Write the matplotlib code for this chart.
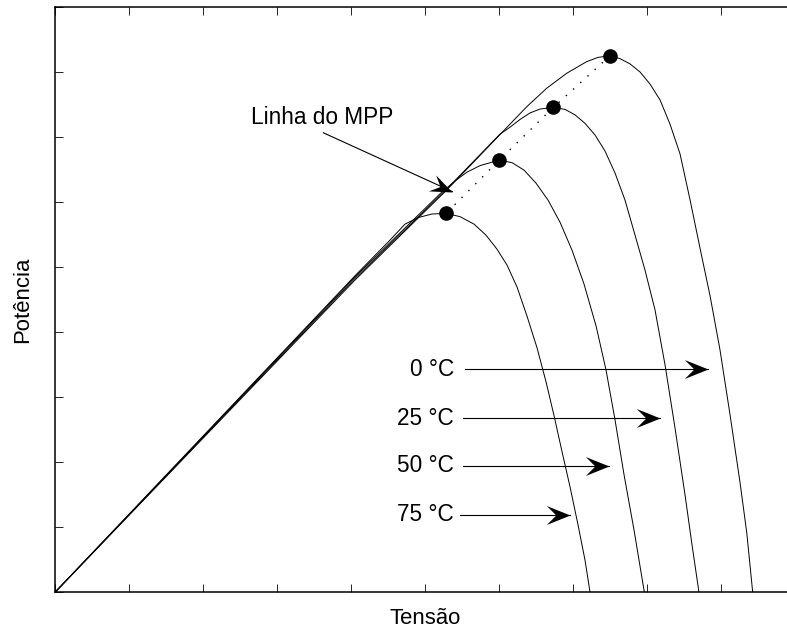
import numpy as np
import matplotlib.pyplot as plt
from matplotlib.path import Path
from matplotlib.transforms import Affine2D

plt.rcParams['font.family'] = ['Liberation Sans', 'DejaVu Sans']

# P x V curves of the module at four cell temperatures (V in volts, P in watts)
v_0 = [0, 20.27, 26.47, 30.52, 31.87, 33.22, 34.57, 35.93, 36.69, 37.50, 38.18,
       38.85, 39.53, 40.20, 40.88, 41.55, 42.23, 42.91, 43.58, 44.26, 44.93,
       45.61, 46.28, 46.74, 47.14]
p_0 = [0, 96.1, 123.8, 143.0, 149.4, 155.1, 159.7, 163.3, 164.6, 165.1, 164.2,
       162.6, 160.1, 156.4, 151.5, 144.1, 134.9, 120.7, 105.9, 91.2, 74.6,
       54.6, 33.9, 18.3, 0]

v_25 = [0, 20.27, 26.47, 30.07, 30.74, 31.42, 32.09, 32.77, 33.67, 34.46, 35.14,
        35.81, 36.49, 37.16, 37.84, 38.51, 39.19, 39.86, 40.54, 41.22, 41.89,
        42.57, 43.04, 43.51]
p_25 = [0, 96.6, 124.1, 141.0, 143.1, 145.5, 147.5, 148.7, 149.2, 148.6, 146.9,
        144.3, 140.7, 135.8, 129.0, 120.7, 109.9, 99.2, 86.9, 69.9, 50.6,
        29.9, 14.6, 0]

v_50 = [0, 20.27, 26.01, 27.03, 27.84, 28.72, 30.02, 30.88, 31.69, 32.50, 33.31,
        34.12, 34.93, 35.74, 36.56, 37.23, 37.84, 38.45, 39.12, 39.82]
p_50 = [0, 97.1, 122.6, 126.6, 129.3, 131.3, 133.0, 132.2, 129.9, 125.9, 120.7,
        113.9, 105.3, 94.9, 81.9, 68.4, 53.0, 36.1, 19.2, 0]

v_75 = [0, 20.27, 22.64, 23.65, 24.53, 25.47, 26.42, 27.36, 28.31, 29.12, 29.86,
        30.54, 31.22, 31.89, 32.57, 33.18, 33.72, 34.26, 34.80, 35.34, 35.81,
        36.15]
p_75 = [0, 97.4, 108.4, 113.3, 115.3, 116.4, 116.6, 115.6, 113.3, 109.9, 105.6,
        100.7, 93.9, 85.0, 75.2, 64.7, 54.3, 43.2, 32.4, 20.7, 9.9,
        0]

# maximum power points, from 0 C to 75 C
v_mpp = [37.50, 33.67, 30.02, 26.42]
p_mpp = [165.1, 149.2, 133.0, 116.6]

temp_labels = ['0 °C', '25 °C', '50 °C', '75 °C']
label_p = [68.7, 53.5, 38.9, 23.8]
arrow_start = [27.70, 27.57, 27.57, 27.36]
arrow_end = [44.12, 40.88, 37.43, 34.80]

mpp_text = (18.08, 146.2)
mpp_arrow = [(18.13, 141.4), (26.85, 123.3)]

fig = plt.figure(figsize=(7.87, 6.32), dpi=100)
ax = fig.add_axes([0.0699, 0.0628, 0.9403, 0.9256])
ax.set_xlim(0, 50)
ax.set_ylim(0, 180)

for v, p in [(v_0, p_0), (v_25, p_25), (v_50, p_50), (v_75, p_75)]:
    ax.plot(v, p, color='black', lw=0.7)

ax.plot(v_mpp, p_mpp, color='black', lw=1.0, linestyle=(0, (1, 6)))
ax.plot(v_mpp, p_mpp, 'o', color='black', ms=9.5)

# arrowhead with a notched back, tip at the origin
head = Path([(0, 0), (-1, 0.4), (-0.6, 0), (-1, -0.4), (0, 0)],
            [Path.MOVETO, Path.LINETO, Path.LINETO, Path.LINETO, Path.CLOSEPOLY])


def arrow(x0, y0, x1, y1):
    ax.plot([x0, x1], [y0, y1], color='black', lw=0.8)
    d0 = ax.transData.transform((x0, y0))
    d1 = ax.transData.transform((x1, y1))
    ang = np.degrees(np.arctan2(d1[1] - d0[1], d1[0] - d0[0]))
    m = Affine2D().rotate_deg(ang).transform_path(head)
    ax.plot([x1], [y1], marker=m, ms=34, color='black', mew=0)


for lab, y, x0, x1 in zip(temp_labels, label_p, arrow_start, arrow_end):
    ax.text(26.95, y, lab, ha='right', va='center', fontsize=16.3)
    arrow(x0, y, x1, y)

ax.text(*mpp_text, 'Linha do MPP', ha='center', va='center', fontsize=16.3)
arrow(*mpp_arrow[0], *mpp_arrow[1])

ax.set_xticks(np.arange(0, 51, 5))
ax.set_yticks(np.arange(0, 181, 20))
ax.tick_params(direction='in', length=6, width=0.6, top=True, right=True,
               labelbottom=False, labelleft=False)
for s in ax.spines.values():
    s.set_linewidth(1.1)

ax.set_xlabel('Tensão', fontsize=15.9, labelpad=11)
ax.set_ylabel('Potência', fontsize=15.9, labelpad=16)

fig.savefig('out.png', dpi=100)
